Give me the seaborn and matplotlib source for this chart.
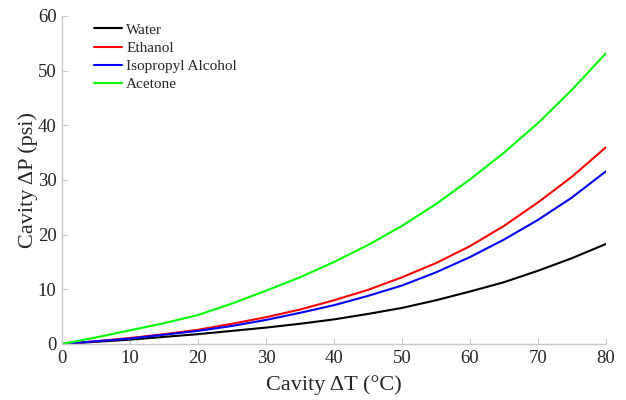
import numpy as np
import pandas as pd
import matplotlib
matplotlib.use("Agg")
import matplotlib.pyplot as plt
import seaborn as sns

delta_t = [0, 5, 10, 15, 20, 25, 30, 35, 40, 45, 50, 55, 60, 65, 70, 75, 80]
water = [0, 0.4, 0.8, 1.3, 1.8, 2.4, 3.0, 3.7, 4.5, 5.5, 6.6, 8.0, 9.6, 11.3, 13.4, 15.7, 18.3]
ethanol = [0, 0.5, 1.1, 1.8, 2.6, 3.7, 4.9, 6.3, 8.0, 9.9, 12.2, 14.8, 17.9, 21.6, 25.9, 30.6, 36.0]
isopropyl = [0, 0.5, 1.0, 1.7, 2.4, 3.3, 4.4, 5.7, 7.1, 8.8, 10.7, 13.1, 15.9, 19.1, 22.7, 26.8, 31.6]
acetone = [0, 1.2, 2.5, 3.8, 5.3, 7.4, 9.75, 12.2, 15.0, 18.1, 21.6, 25.6, 30.1, 35.0, 40.4, 46.5, 53.2]

series_names = ["Water", "Ethanol", "Isopropyl Alcohol", "Acetone"]
series_values = [water, ethanol, isopropyl, acetone]
colors = ["#000000", "#ff0000", "#0000ff", "#00ff00"]

x_ticks = [0, 10, 20, 30, 40, 50, 60, 70, 80]
y_ticks = [0, 10, 20, 30, 40, 50, 60]

df = pd.concat(
    [pd.DataFrame({"dT": delta_t, "dP": v, "Fluid": n}) for n, v in zip(series_names, series_values)],
    ignore_index=True,
)

sns.set_style("ticks")
plt.rcParams["font.family"] = ["Liberation Serif", "DejaVu Serif"]

fig = plt.figure(figsize=(6.26, 4.0), dpi=100)
ax = fig.add_axes([0.099, 0.14, 0.869, 0.82])

sns.lineplot(data=df, x="dT", y="dP", hue="Fluid", hue_order=series_names,
             palette=colors, linewidth=1.5, ax=ax, sort=False)

ax.set_xlim(0, 80)
ax.set_ylim(0, 60)
ax.set_xticks(x_ticks)
ax.set_yticks(y_ticks)

for s in ["top", "right"]:
    ax.spines[s].set_visible(False)
for s in ["left", "bottom"]:
    ax.spines[s].set_color("#c8c8c8")
    ax.spines[s].set_linewidth(1.0)

ax.tick_params(direction="in", length=4, width=0.8, color="#c8c8c8",
               labelsize=13.5, labelcolor="#262626", pad=4)

ax.set_xlabel("Cavity ΔT (°C)", fontsize=16, color="#262626", labelpad=6)
ax.set_ylabel("Cavity ΔP (psi)", fontsize=16, color="#262626", labelpad=0)

leg = ax.legend(loc="upper left", bbox_to_anchor=(0.0588, 0.979), frameon=False,
                fontsize=11, handlelength=1.85, handletextpad=0.25,
                labelspacing=0.3, borderaxespad=0.0, borderpad=0.0)
for t in leg.get_texts():
    t.set_color("#262626")

fig.savefig("out.png", dpi=100)
